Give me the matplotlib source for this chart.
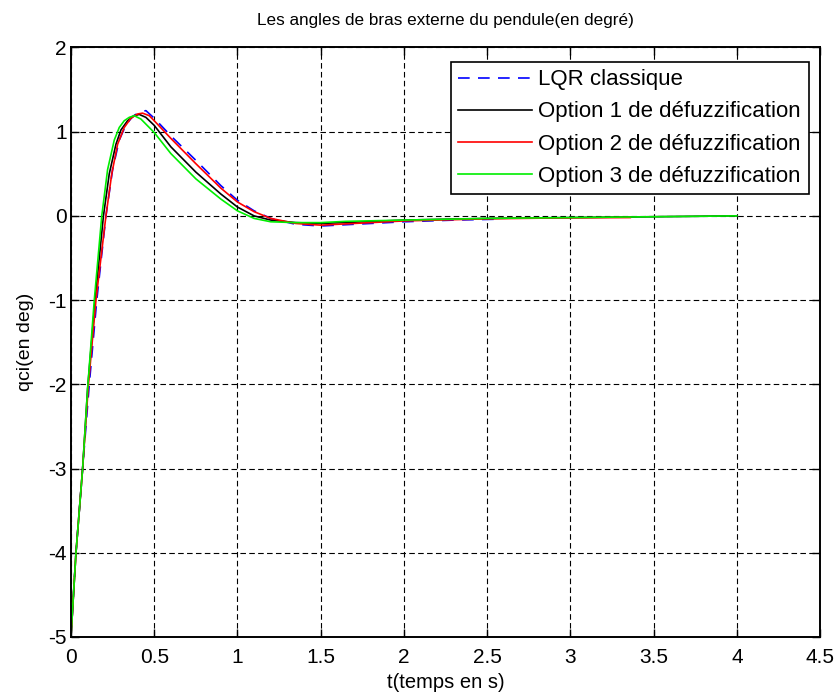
import matplotlib.pyplot as plt

# courbes (t en s, angle en deg)
t_lqr = [0, .03, .07, .11, .155, .21, .25, .29, .33, .37, .41, .45, .5, .6, .75, .9,
         1.0, 1.1, 1.2, 1.35, 1.5, 1.7, 2.0, 2.3, 2.55]
q_lqr = [-5, -4, -3, -2.0, -1.0, 0, 0.55, 0.9, 1.08, 1.18, 1.23, 1.25, 1.16, 0.95, 0.66, 0.36,
         0.185, 0.06, -0.03, -0.1, -0.12, -0.1, -0.07, -0.05, -0.04]

t_opt1 = [0, .03, .07, .10, .145, .195, .23, .27, .30, .34, .38, .41, .45, .5, .6, .75, .9,
          1.0, 1.1, 1.2, 1.35, 1.5, 1.7, 2.0, 2.5, 3.0, 3.5, 4.0]
q_opt1 = [-5, -4, -3, -2.05, -1.0, 0, 0.5, 0.85, 1.02, 1.13, 1.19, 1.205, 1.17, 1.075, 0.82, 0.52, 0.26,
          0.105, 0.0, -0.05, -0.08, -0.09, -0.075, -0.05, -0.03, -0.02, -0.01, 0.0]

t_opt2 = [0, .03, .07, .105, .15, .21, .245, .28, .32, .36, .40, .43, .47, .5, .6, .75, .9,
          1.0, 1.1, 1.2, 1.35, 1.5, 1.7, 2.0, 2.5, 2.9, 3.36]
q_opt2 = [-5, -4, -3, -2.0, -1.0, 0, 0.5, 0.85, 1.05, 1.16, 1.21, 1.22, 1.19, 1.13, 0.92, 0.62, 0.33,
          0.165, 0.05, -0.03, -0.09, -0.11, -0.09, -0.06, -0.035, -0.025, -0.02]

t_opt3 = [0, .03, .07, .10, .14, .185, .22, .26, .29, .32, .35, .38, .42, .5, .6, .75, .9,
          1.0, 1.1, 1.2, 1.35, 1.5, 1.65, 2.0, 2.5, 3.0, 3.5, 4.0]
q_opt3 = [-5, -4, -3, -2.05, -1.0, 0, 0.55, 0.9, 1.05, 1.13, 1.17, 1.19, 1.15, 0.99, 0.74, 0.44, 0.2,
          0.06, -0.03, -0.07, -0.08, -0.08, -0.065, -0.05, -0.03, -0.02, -0.01, 0.0]

labels = ['LQR classique', 'Option 1 de défuzzification',
          'Option 2 de défuzzification', 'Option 3 de défuzzification']
xticks = [0, 0.5, 1, 1.5, 2, 2.5, 3, 3.5, 4, 4.5]
xticklabels = ['0', '0.5', '1', '1.5', '2', '2.5', '3', '3.5', '4', '4.5']
yticks = [-5, -4, -3, -2, -1, 0, 1, 2]
yticklabels = ['-5', '-4', '-3', '-2', '-1', '0', '1', '2']

plt.rcParams['font.family'] = ['Liberation Sans', 'DejaVu Sans']
plt.rcParams['font.size'] = 14

fig = plt.figure(figsize=(8.37, 6.98), dpi=100)
ax = fig.add_axes([0.0848, 0.0875, 0.895, 0.8445])

ax.plot(t_lqr, q_lqr, color='#0000ff', lw=1.2, dashes=(7, 5), label=labels[0])
ax.plot(t_opt1, q_opt1, color='black', lw=1.2, label=labels[1])
ax.plot(t_opt2, q_opt2, color='#ff0000', lw=1.2, label=labels[2])
ax.plot(t_opt3, q_opt3, color='#00ee00', lw=1.2, label=labels[3])

ax.set_xlim(0, 4.5)
ax.set_ylim(-5, 2)
ax.set_xticks(xticks)
ax.set_xticklabels(xticklabels)
ax.set_yticks(yticks)
ax.set_yticklabels(yticklabels)
ax.grid(True, color='black', linestyle=(0, (5, 3)), linewidth=0.8)
ax.tick_params(direction='in', top=True, right=True, length=6, width=1, labelsize=15)
ax.tick_params(axis='x', pad=8)
ax.tick_params(axis='y', pad=3)
for s in ax.spines.values():
    s.set_linewidth(1.4)

ax.set_title('Les angles de bras externe du pendule(en degré)', fontsize=12.3, pad=16)
ax.set_xlabel('t(temps en s)', fontsize=14.5, labelpad=4)
ax.set_ylabel('qci(en deg)', fontsize=14, labelpad=10)

leg = ax.legend(loc='upper right', bbox_to_anchor=(0.985, 0.976), fancybox=False,
                framealpha=1, edgecolor='black', fontsize=16, handlelength=3.3,
                borderpad=0.35, labelspacing=0.5, handletextpad=0.3, borderaxespad=0)
leg.get_frame().set_linewidth(1.2)

fig.savefig('out.png', dpi=100)
